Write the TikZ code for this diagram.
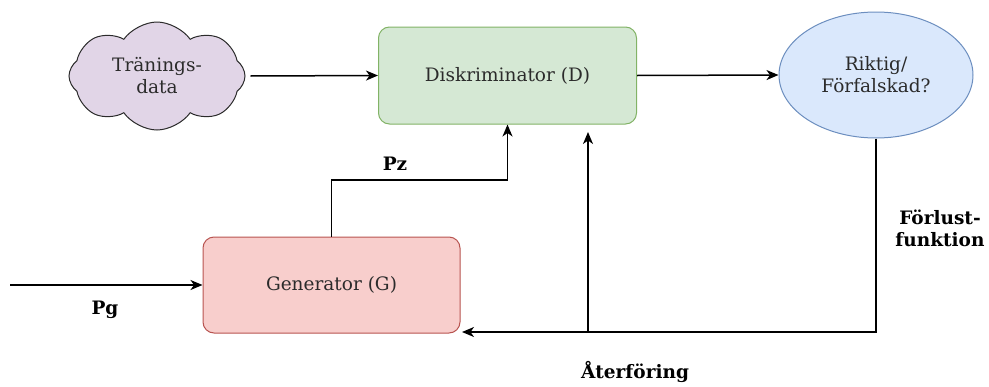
\documentclass[tikz,border=0pt]{standalone}
\usepackage{fontspec}
\setmainfont{DejaVu Serif}
\usetikzlibrary{shapes.symbols,shapes.geometric,arrows.meta}

\definecolor{cloudfill}{HTML}{E1D5E7}
\definecolor{discfill}{HTML}{D5E8D4}
\definecolor{discline}{HTML}{82B366}
\definecolor{ellfill}{HTML}{DAE8FC}
\definecolor{ellline}{HTML}{6C8EBF}
\definecolor{genfill}{HTML}{F8CECC}
\definecolor{genline}{HTML}{B85450}
\definecolor{txt}{HTML}{2B2B2B}

\tikzset{
  nodefont/.style={font=\fontsize{18.5}{22}\selectfont},
  box/.style={rectangle, rounded corners=11pt, line width=1pt, text=txt,
    nodefont, align=center, inner sep=0pt},
  arr/.style={line width=1.5pt, -{Stealth[length=12pt,width=10pt,inset=3.5pt]}},
  lbl/.style={font=\bfseries\fontsize{18.5}{22}\selectfont, align=center, text=black},
}

\begin{document}
\begin{tikzpicture}[x=1pt,y=-1pt]
  \useasboundingbox (0,0) rectangle (989,386);

  % training data cloud
  \node[cloud, cloud puffs=8, cloud puff arc=110, aspect=1.6,
        minimum width=176pt, minimum height=108pt, inner sep=0pt,
        fill=cloudfill, draw=txt, line width=1pt, text=txt,
        nodefont, align=center]
        (cloud) at (157,76) {Tränings-\\data};

  % discriminator
  \node[box, fill=discfill, draw=discline, minimum width=258pt, minimum height=97pt]
        (disc) at (507.5,75.5) {Diskriminator (D)};

  % real / fake decision
  \node[ellipse, fill=ellfill, draw=ellline, line width=1pt, text=txt,
        minimum width=194pt, minimum height=126pt, inner sep=0pt,
        nodefont, align=center]
        (ell) at (876,75) {Riktig/\\Förfalskad?};

  % generator
  \node[box, fill=genfill, draw=genline, minimum width=257pt, minimum height=96pt]
        (gen) at (331.5,285) {Generator (G)};

  % helper points
  \coordinate (pgstart) at (10,285);
  \coordinate (pzbend) at (507.5,180);
  \coordinate (fbcorner) at (876,332);
  \coordinate (fbend) at (462,332);
  \coordinate (fbbranch) at (588,332);
  \coordinate (fbtip) at (588,132);

  % connectors
  \draw[arr] ([xshift=5pt]cloud.east) -- (disc.west);
  \draw[arr] (disc.east) -- (ell.west);
  \draw[arr] (pgstart) -- (gen.west);
  \draw[arr] (gen.north) |- (pzbend) -- (disc.south);
  \draw[arr] (ell.south) -- (fbcorner) -- (fbend);
  \draw[arr] (fbbranch) -- (fbtip);

  % labels
  \node[lbl] (pz) at (395,164) {Pz};
  \node[lbl] (pg) at (105,310) {Pg};
  \node[lbl] (loss) at (940,228) {Förlust-\\funktion};
  \node[lbl] (back) at (635,372) {Återföring};
\end{tikzpicture}
\end{document}
